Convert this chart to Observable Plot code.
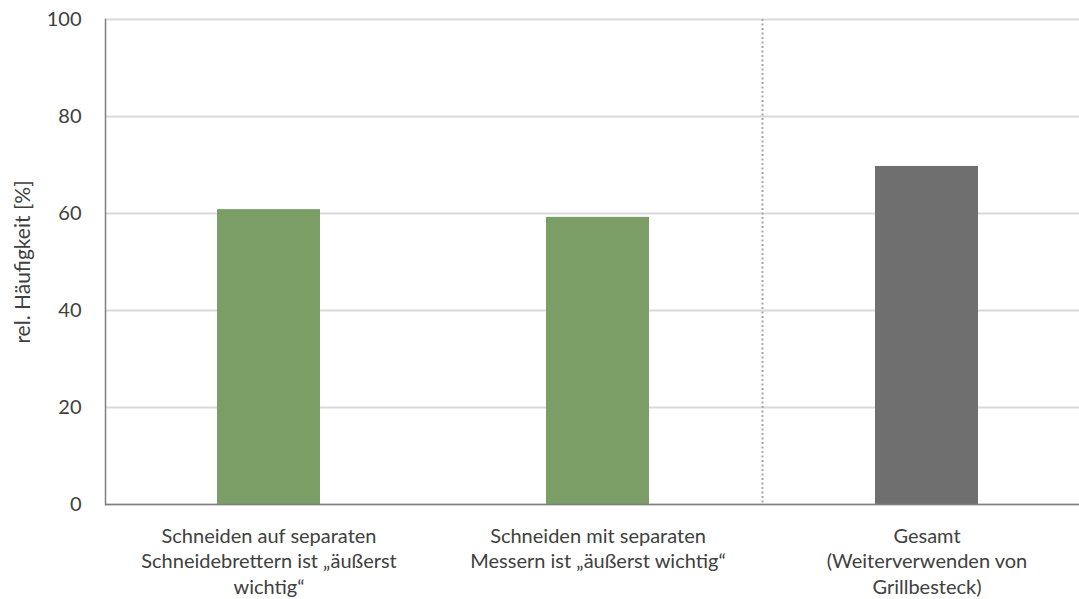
<!DOCTYPE html>
<html>
<head>
<meta charset="utf-8">
<script src="https://cdn.jsdelivr.net/npm/d3@7"></script>
<script src="https://cdn.jsdelivr.net/npm/@observablehq/plot@0.6"></script>
<style>
  html, body { margin: 0; padding: 0; background: #fff; }
</style>
</head>
<body>
<div id="chart"></div>
<script>
const categories = [
  "Schneiden auf separaten Schneidebrettern ist „äußerst wichtig“",
  "Schneiden mit separaten Messern ist „äußerst wichtig“",
  "Gesamt (Weiterverwenden von Grillbesteck)"
];
const labelLines = [
  ["Schneiden auf separaten", "Schneidebrettern ist „äußerst", "wichtig“"],
  ["Schneiden mit separaten", "Messern ist „äußerst wichtig“"],
  ["Gesamt", "(Weiterverwenden von", "Grillbesteck)"]
];
const values = [60.8, 59.2, 69.7];
const groups = ["Teilaspekt", "Teilaspekt", "Gesamt"];
const yTicks = [0, 20, 40, 60, 80, 100];
const yLabel = "rel. Häufigkeit [%]";

const data = categories.map((c, i) => ({cat: c, value: values[i], group: groups[i], label: labelLines[i].join("\n")}));

const W = 1079, H = 599;
const mLeft = 105, mTop = 19, mBottom = 95;
const step = 329;
const xRange = [mLeft - 1.5, mLeft - 1.5 + categories.length * step];

const plot = Plot.plot({
  width: W,
  height: H,
  marginLeft: mLeft,
  marginRight: 0,
  marginTop: mTop,
  marginBottom: mBottom,
  style: {fontFamily: "Lato, 'Open Sans', sans-serif", color: "#404040", background: "#fff"},
  x: {domain: categories, range: xRange, paddingInner: 0.687, paddingOuter: 0.3435, axis: null},
  y: {domain: [0, 100], axis: null},
  color: {domain: ["Teilaspekt", "Gesamt"], range: ["#7a9e65", "#6f6f6f"]},
  marks: [
    Plot.gridY(yTicks, {stroke: "#d9d9d9", strokeOpacity: 1, strokeWidth: 2}),
    Plot.barY(data, {x: "cat", y: "value", fill: "group"}),
    Plot.ruleX([categories[2]], {x: d => d, dx: -step / 2, stroke: "#a6a6a6", strokeWidth: 2, strokeDasharray: "2,2.5"}),
    Plot.ruleY([0], {stroke: "#808080", strokeWidth: 1.5}),
    Plot.frame({anchor: "left", stroke: "#808080", strokeWidth: 1.5}),
    Plot.axisY(yTicks, {tickSize: 0, tickPadding: 24, fontSize: 20, fill: "#404040", label: null}),
    Plot.text(data, {x: "cat", y: () => 0, text: "label", lineAnchor: "top", dy: 20, fontSize: 20, lineHeight: 1.28, fill: "#404040"}),
    Plot.text([yLabel], {frameAnchor: "left", dx: -82, rotate: -90, textAnchor: "middle", fontSize: 21, fill: "#404040"})
  ]
});
document.getElementById("chart").appendChild(plot);
</script>
</body>
</html>
